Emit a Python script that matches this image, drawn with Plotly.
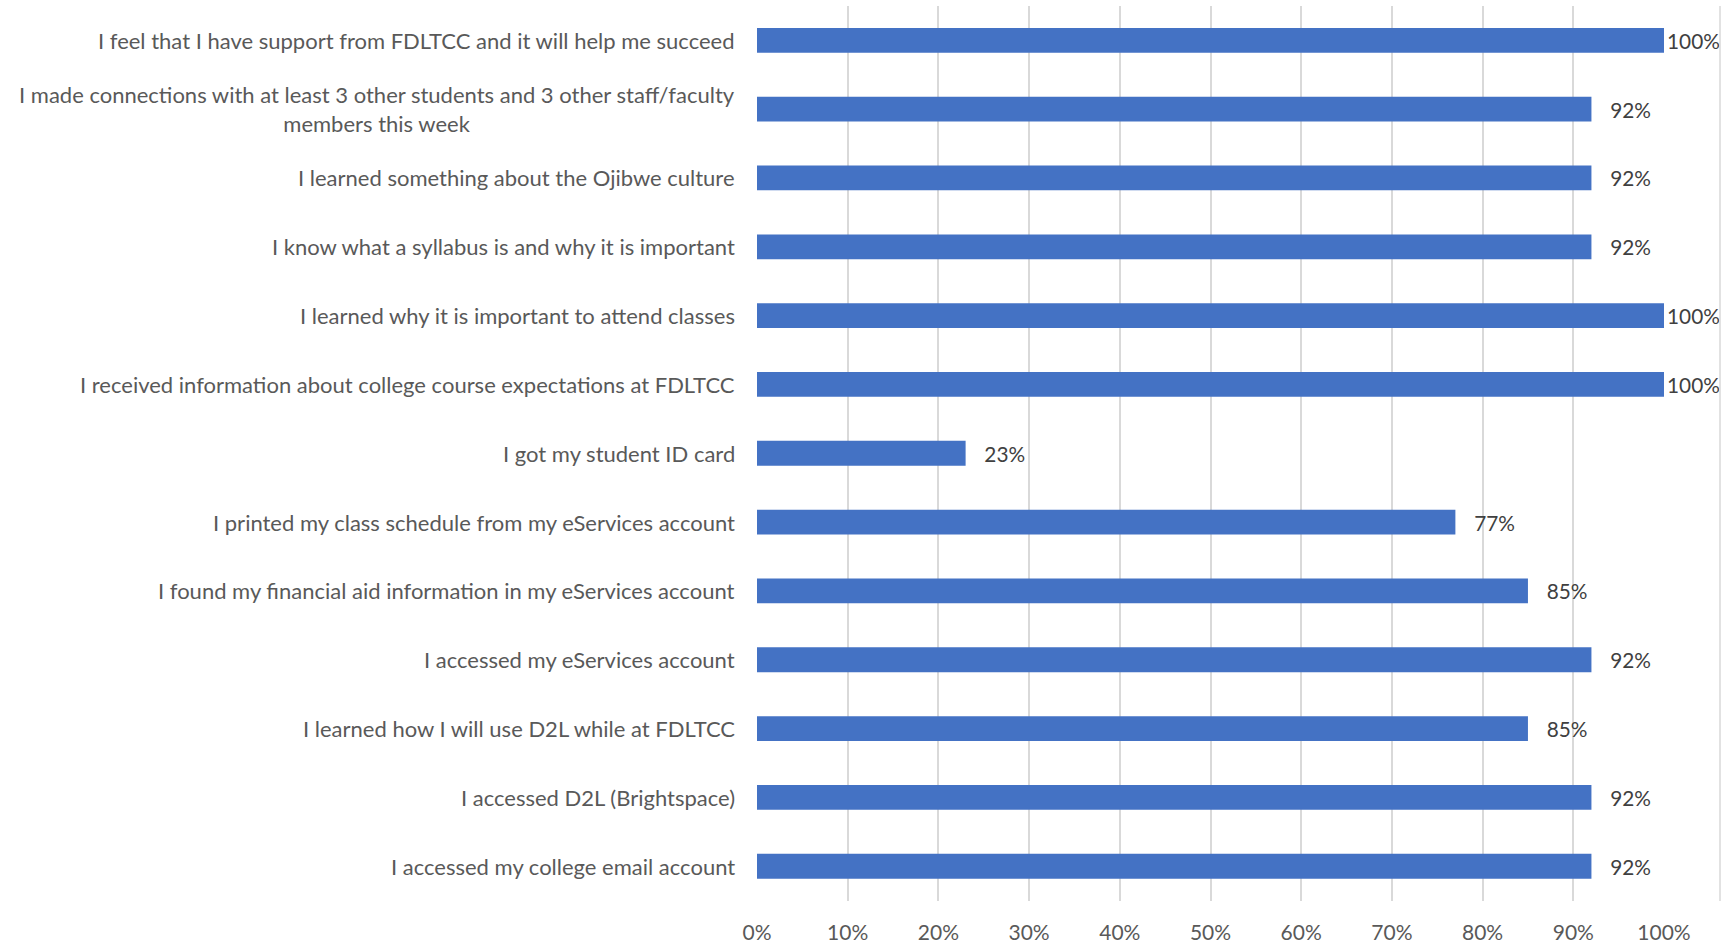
import plotly.graph_objects as go

categories = [
    "I accessed my college email account",
    "I accessed D2L (Brightspace)",
    "I learned how I will use D2L while at FDLTCC",
    "I accessed my eServices account",
    "I found my financial aid information in my eServices account",
    "I printed my class schedule from my eServices account",
    "I got my student ID card",
    "I received information about college course expectations at FDLTCC",
    "I learned why it is important to attend classes",
    "I know what a syllabus is and why it is important",
    "I learned something about the Ojibwe culture",
    "I made connections with at least 3 other students and 3 other staff/faculty<br>members this week",
    "I feel that I have support from FDLTCC and it will help me succeed",
]
values = [92, 92, 85, 92, 85, 77, 23, 100, 100, 92, 92, 92, 100]
x_ticks = list(range(0, 101, 10))

FONT = "Lato, Open Sans, sans-serif"

labels = [(f"{v}%" if v >= 100 else f"\u2002\u00a0{v}%") for v in values]

fig = go.Figure()
fig.add_trace(go.Bar(
    y=categories,
    x=values,
    orientation="h",
    marker=dict(color="#4472C4", line=dict(width=0)),
    text=labels,
    textposition="outside",
    textfont=dict(family=FONT, size=21, color="#404040"),
    cliponaxis=False,
    hoverinfo="skip",
))

annotations = []
for c in categories:
    annotations.append(dict(
        x=0, xref="paper", y=c, yref="y",
        text=c, showarrow=False, xanchor="right", yanchor="middle",
        align="center", xshift=-20,
        font=dict(family=FONT, size=22, color="#595959"),
    ))

border_x = (1720 - 757) / 907

fig.update_layout(
    width=1722, height=948,
    margin=dict(l=757, r=58, t=6, b=47, autoexpand=False),
    plot_bgcolor="white", paper_bgcolor="white",
    bargap=0.64,
    showlegend=False,
    annotations=annotations,
    shapes=[dict(type="line", xref="paper", yref="paper",
                 x0=border_x, x1=border_x, y0=0, y1=1,
                 line=dict(color="#d9d9d9", width=1.5))],
    xaxis=dict(
        range=[0, 100], tickvals=x_ticks,
        ticktext=[f"{t}%" for t in x_ticks],
        showgrid=True, gridcolor="#d9d9d9", gridwidth=1.5,
        zeroline=False, showline=False, automargin=False,
        tickfont=dict(family=FONT, size=21, color="#595959"),
        ticks="", ticklabelstandoff=17,
    ),
    yaxis=dict(
        range=[-0.505, 12.498], automargin=False,
        showticklabels=False, showgrid=False, zeroline=False,
        showline=False, ticks="",
    ),
)

fig.write_html(
    "out.html",
    config={"displayModeBar": False},
    post_script="document.body.style.margin='0';document.body.style.overflow='hidden';",
)
